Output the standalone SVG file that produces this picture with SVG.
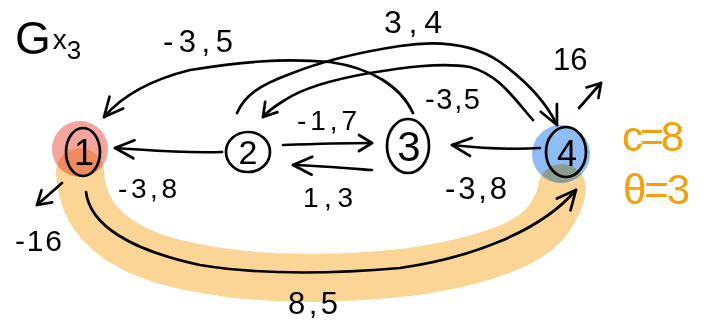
<svg xmlns="http://www.w3.org/2000/svg" width="716" height="323" viewBox="0 0 716 323">
<style>
  .ink{fill:none;stroke:#000;stroke-width:2.7;stroke-linecap:round;stroke-linejoin:round}
  .lbl{font-family:"Liberation Sans","DejaVu Sans",sans-serif;fill:#000}
  .num{font-family:"Liberation Sans","DejaVu Sans",sans-serif;fill:#000;text-anchor:middle}
  .org{font-family:"Liberation Sans","DejaVu Sans",sans-serif;fill:#F5A00A}
  .mul{mix-blend-mode:multiply}
</style>
<defs>
  <marker id="ah" viewBox="-24 -14 28 28" refX="0" refY="0" markerWidth="28" markerHeight="28" markerUnits="userSpaceOnUse" orient="auto" overflow="visible">
    <path d="M-19,-9 L0,0 L-19,9" fill="none" stroke="#000" stroke-width="2.7" stroke-linecap="round" stroke-linejoin="round"/>
  </marker>
  <marker id="ahs" viewBox="-24 -14 28 28" refX="0" refY="0" markerWidth="28" markerHeight="28" markerUnits="userSpaceOnUse" orient="auto" overflow="visible">
    <path d="M-13,-8 L0,0 L-13,8" fill="none" stroke="#000" stroke-width="2.7" stroke-linecap="round" stroke-linejoin="round"/>
  </marker>
</defs>
<rect width="716" height="323" fill="#fff"/>

<g id="highlight">
  <path d="M80,172 C82,215 110,245 170,262 C240,280 320,282 410,272 C480,262 530,245 548,220 C558,205 562,195 562,188" fill="none" stroke="#FAD596" stroke-width="48" stroke-linecap="round" stroke-linejoin="round"/>
</g>

<g id="node1">
  <circle class="mul" cx="80" cy="149" r="28" fill="#F4A69E"/>
  <ellipse class="ink" cx="83" cy="152" rx="17" ry="24"/>
  <text class="num" x="84" y="165" font-size="36">1</text>
</g>
<g id="node2">
  <ellipse class="ink" cx="248" cy="152" rx="22" ry="20"/>
  <text class="num" x="248" y="164" font-size="34">2</text>
</g>
<g id="node3">
  <ellipse class="ink" cx="408" cy="146" rx="21" ry="27"/>
  <text class="num" x="409" y="161" font-size="42">3</text>
</g>
<g id="node4">
  <circle class="mul" cx="561" cy="154" r="29" fill="#8EBDF6"/>
  <ellipse class="ink" cx="566" cy="152" rx="20" ry="25"/>
  <text class="num" x="567" y="166" font-size="36">4</text>
</g>

<g id="connectors">
  <path class="ink" marker-end="url(#ah)" d="M413,113 C400,85 370,68 330,62 C280,58 240,62 190,70 C150,80 122,96 104,117"/>
  <path class="ink" marker-end="url(#ah)" d="M237,113 C245,95 260,85 290,74 C320,62 360,52 400,46 C440,40 475,45 500,62 C525,80 545,100 557,125"/>
  <path class="ink" marker-end="url(#ahs)" d="M533,120 C515,100 500,75 470,67 C440,62 400,68 370,73 C330,80 300,90 285,100 C275,106 268,111 263,117"/>
  <path class="ink" marker-end="url(#ah)" d="M222,152 C190,153 160,151 115,148"/>
  <path class="ink" marker-end="url(#ahs)" d="M283,145 C310,144 340,143 372,143"/>
  <path class="ink" marker-end="url(#ah)" d="M372,170 C345,168 320,166 293,165"/>
  <path class="ink" marker-end="url(#ah)" d="M540,148 C510,150 480,148 452,145"/>
  <path class="ink" marker-end="url(#ah)" d="M86,192 C90,225 130,250 200,265 C260,275 330,274 400,268 C470,258 540,232 576,190"/>
  <path class="ink" marker-end="url(#ahs)" d="M62,183 L37,205"/>
  <path class="ink" marker-end="url(#ahs)" d="M579,108 L601,83"/>
</g>

<g id="labels">
  <text class="lbl" x="15" y="54" font-size="46">G<tspan font-size="28" dx="2" dy="-5">x</tspan><tspan font-size="26" dy="10">3</tspan></text>
  <text class="lbl" x="163" y="52" font-size="31" textLength="70" lengthAdjust="spacing">-3,5</text>
  <text class="lbl" x="384" y="33" font-size="32" textLength="58" lengthAdjust="spacing">3,4</text>
  <text class="lbl" x="553" y="70" font-size="31">16</text>
  <text class="lbl" x="425" y="109" font-size="29" textLength="55" lengthAdjust="spacing">-3,5</text>
  <text class="lbl" x="297" y="130" font-size="28" textLength="60" lengthAdjust="spacing">-1,7</text>
  <text class="lbl" x="303" y="207" font-size="28" textLength="50" lengthAdjust="spacing">1,3</text>
  <text class="lbl" x="445" y="199" font-size="31" textLength="62" lengthAdjust="spacing">-3,8</text>
  <text class="lbl" x="118" y="198" font-size="28" textLength="59" lengthAdjust="spacing">-3,8</text>
  <text class="lbl" x="15" y="251" font-size="30" textLength="47" lengthAdjust="spacing">-16</text>
  <text class="lbl" x="288" y="314" font-size="31" textLength="50" lengthAdjust="spacing">8,5</text>
  <text class="org" x="622" y="151" font-size="42" textLength="62" lengthAdjust="spacing">c=8</text>
  <text class="org" x="623" y="204" font-size="42" textLength="67" lengthAdjust="spacing">θ=3</text>
</g>
</svg>
